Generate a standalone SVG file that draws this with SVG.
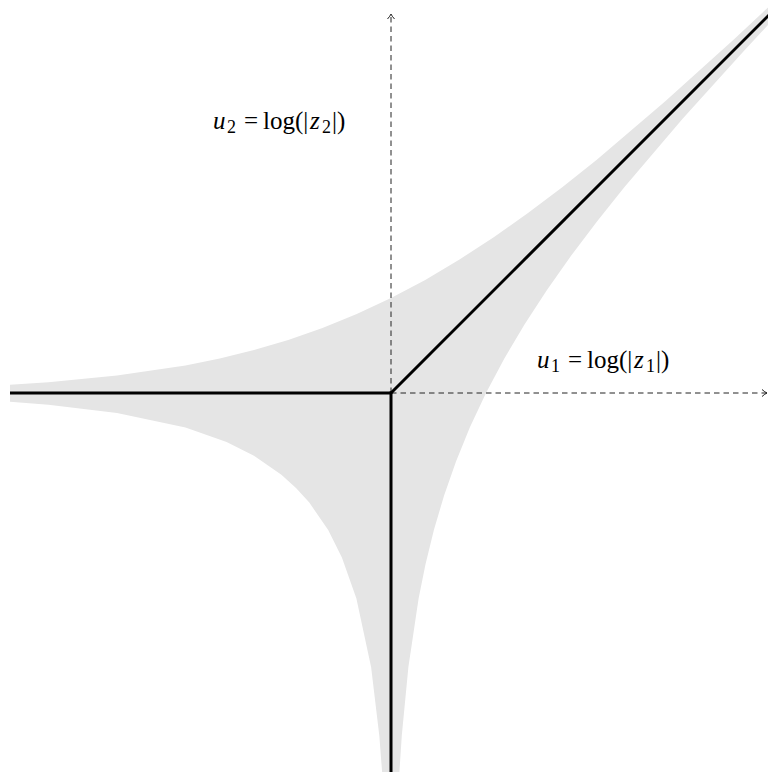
<svg xmlns="http://www.w3.org/2000/svg" width="768" height="772" viewBox="0 0 768 772">
<style>
.axis{stroke:#222;stroke-width:1;fill:none;stroke-dasharray:5.5 4}
.spine{stroke:#000;stroke-width:3;fill:none;stroke-linecap:butt}
.lbl{font-family:"Liberation Serif","DejaVu Serif",serif;font-size:25px;fill:#000}
.it{font-style:italic}
.sub{font-size:18px}
</style>
<defs>
<marker id="arr" markerWidth="10" markerHeight="10" refX="7" refY="5" orient="auto" markerUnits="userSpaceOnUse">
<path d="M2,1.5 Q5,4.2 7,5 Q5,5.8 2,8.5" fill="none" stroke="#222" stroke-width="1"/>
</marker>
</defs>
<rect width="768" height="772" fill="#fff"/>
<g id="amoeba">
<path fill="#e5e5e5" d="M10,384.8 L48.5,382.2 L117,375.6 L185.5,365.4 L219.75,358.5 L254,350.1 L288.25,340 L322.5,328 L356.75,314.1 L391,298 L425.25,279.9 L459.5,259.5 L493.75,237.2 L528,213.1 L562.25,187.2 L596.5,159.9 L665,101.6 L733.5,39.7 L768,7.4 L768,25 L744.3,50.5 L682.4,119 L624.1,187.5 L596.8,221.75 L570.9,256 L546.8,290.25 L524.5,324.5 L504.2,358.75 L486,393 L469.9,427.25 L456,461.5 L444,495.75 L433.9,530 L425.5,564.25 L418.6,598.5 L408.4,667 L401.8,735.5 L399.4,772 L382.1,772 L379.3,735.5 L371.1,667 L356.4,598.5 L341.9,557.4 L328.2,530 L309.3,502.6 L296,488 L281.4,474.7 L254,455.8 L226.6,442.1 L185.5,427.6 L117,412.9 L48.5,404.7 L10,401.8 Z"/>
</g>
<g id="connectors">
<line class="axis" x1="391" y1="393" x2="391" y2="14" marker-end="url(#arr)"/>
<line class="axis" x1="391" y1="393" x2="767" y2="393" marker-end="url(#arr)"/>
</g>
<g id="spine">
<line class="spine" x1="10" y1="393" x2="391" y2="393"/>
<line class="spine" x1="391" y1="391.5" x2="391" y2="772"/>
<line class="spine" x1="390" y1="394" x2="770" y2="14"/>
</g>
<g id="label-u2">
<text class="lbl" y="129"><tspan class="it" x="213">u</tspan><tspan class="sub" x="227" y="133">2</tspan><tspan x="244" y="129">=</tspan><tspan x="263">log(|</tspan><tspan class="it" x="310">z</tspan><tspan class="sub" x="322" y="133">2</tspan><tspan x="332" y="129">|)</tspan></text>
</g>
<g id="label-u1">
<text class="lbl" y="368"><tspan class="it" x="537">u</tspan><tspan class="sub" x="551" y="372">1</tspan><tspan x="568" y="368">=</tspan><tspan x="587">log(|</tspan><tspan class="it" x="634">z</tspan><tspan class="sub" x="646" y="372">1</tspan><tspan x="656" y="368">|)</tspan></text>
</g>
</svg>
